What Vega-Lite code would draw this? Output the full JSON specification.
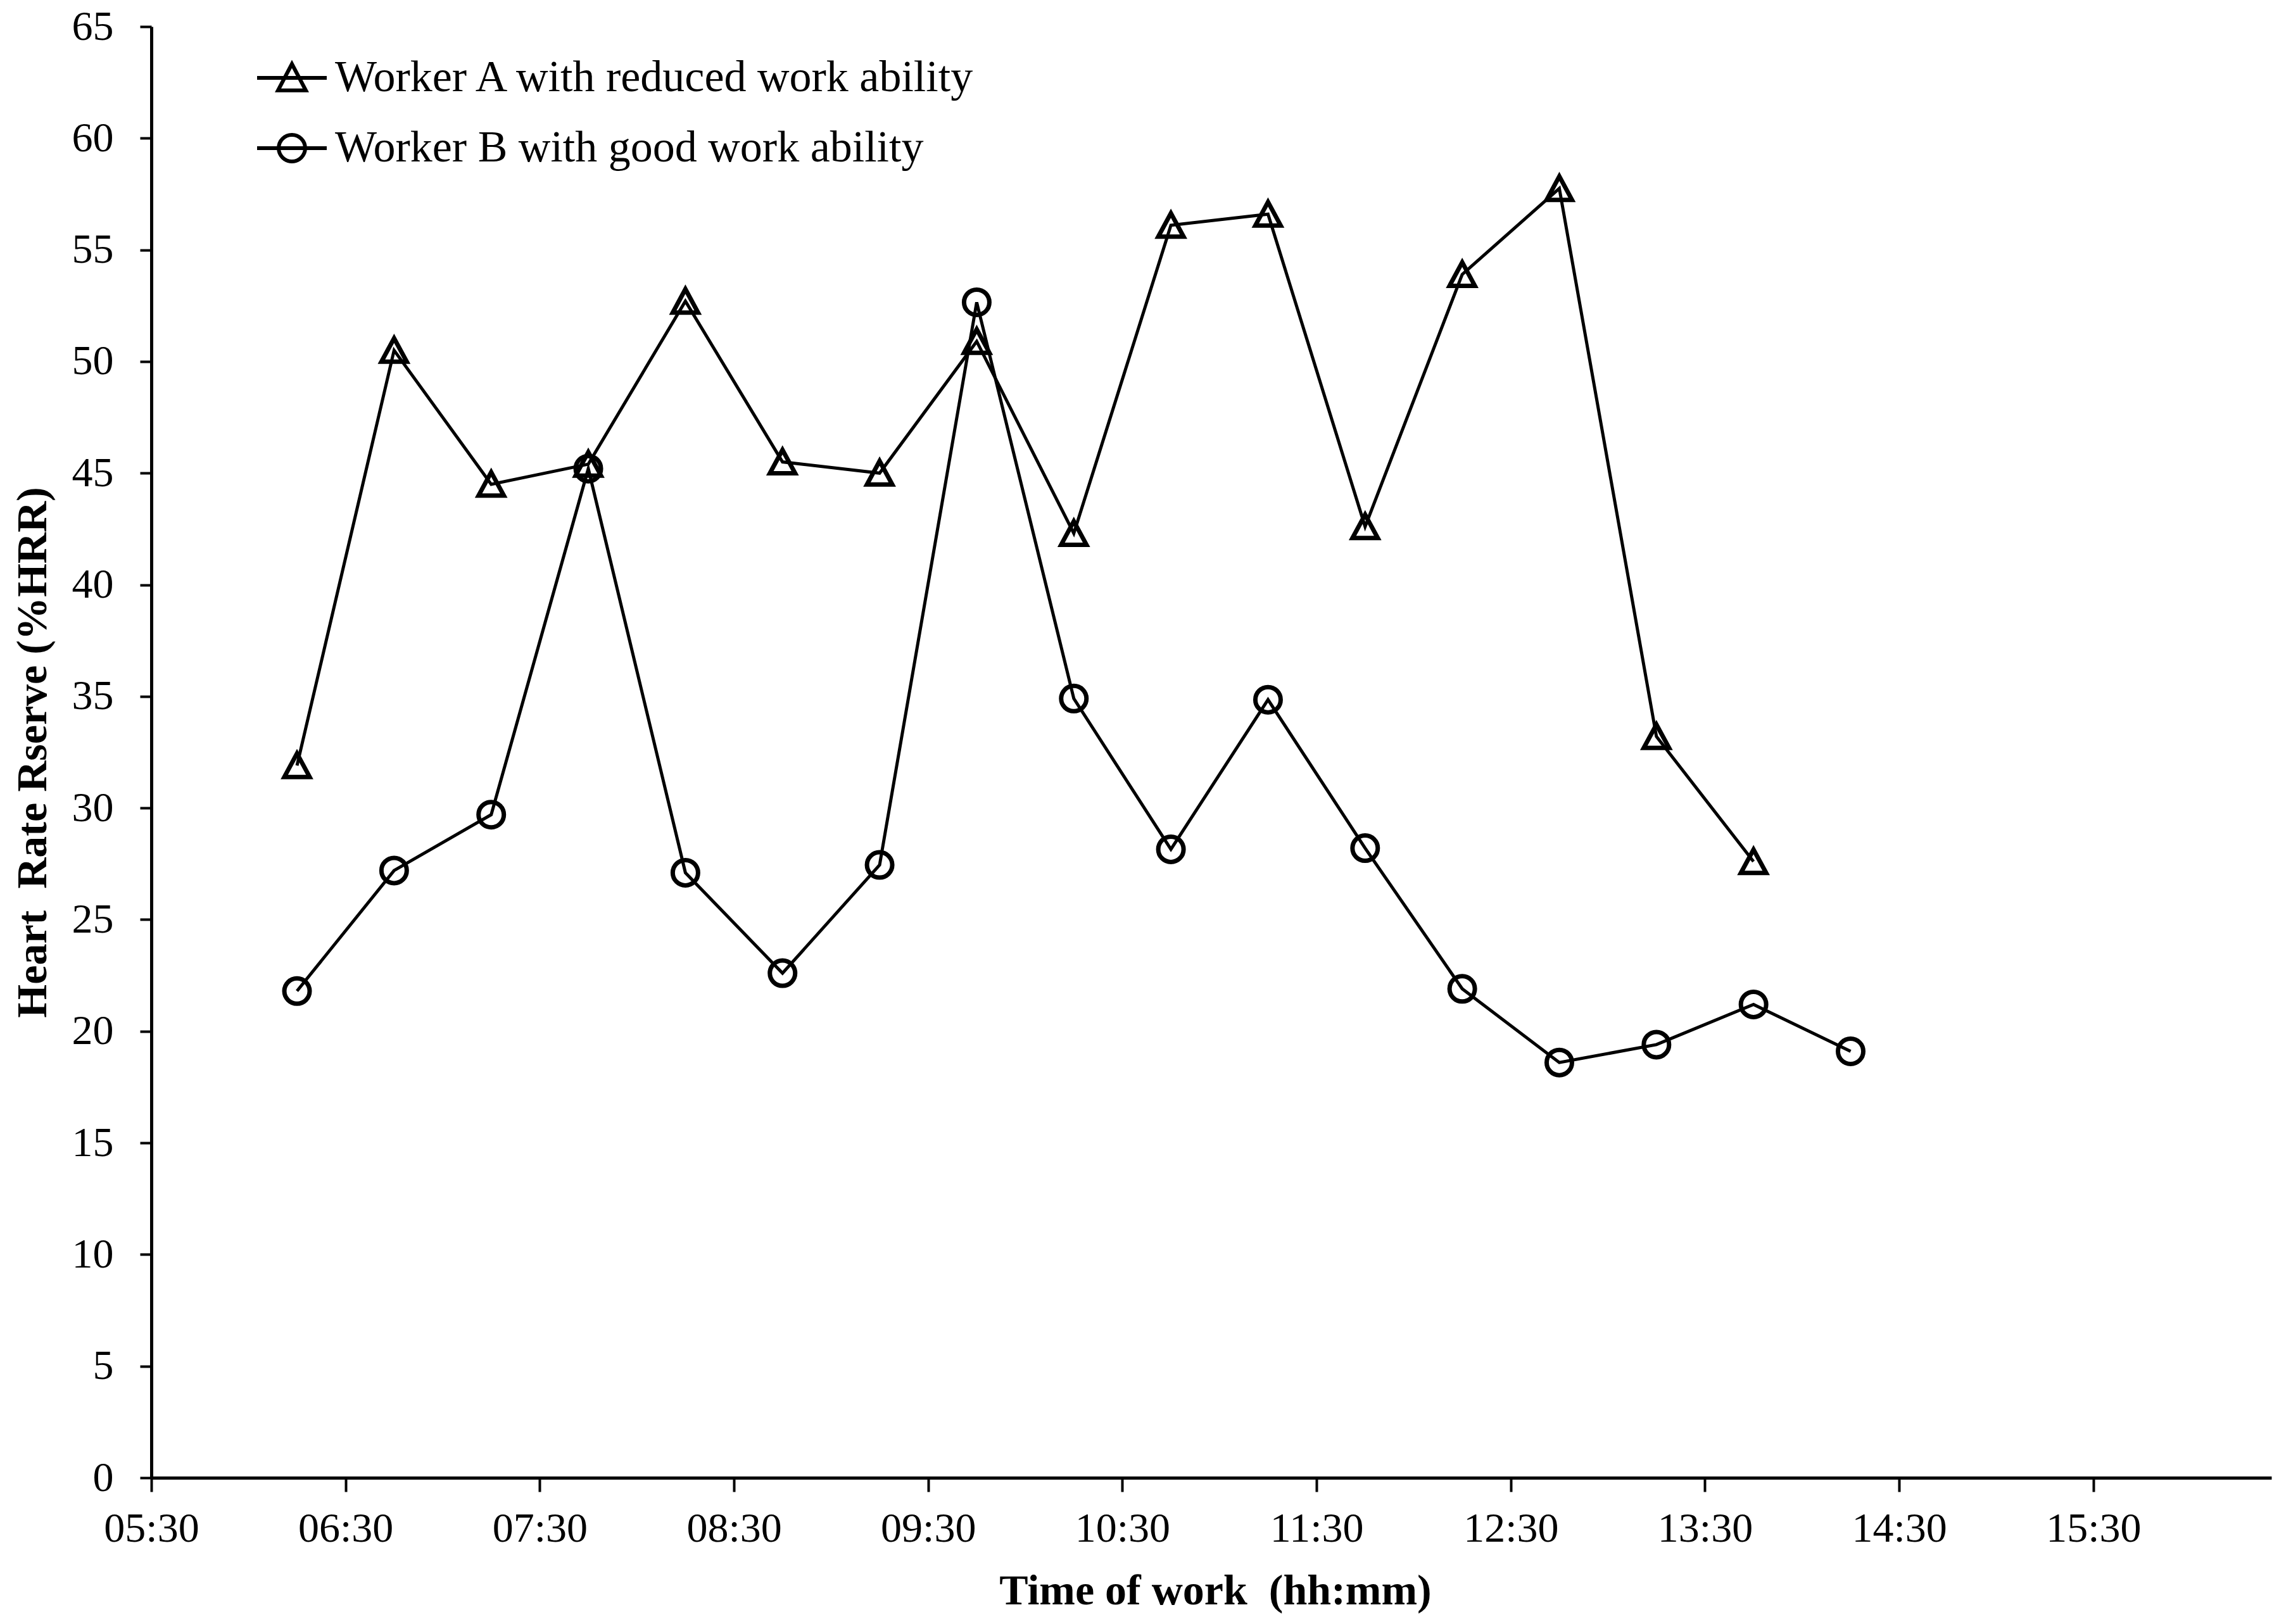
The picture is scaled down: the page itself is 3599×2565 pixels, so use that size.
{
  "$schema": "https://vega.github.io/schema/vega-lite/v6.json",
  "autosize": "none",
  "padding": {"left": 239, "top": 42, "right": 12, "bottom": 231},
  "width": 3348,
  "height": 2292,
  "background": "white",
  "config": {
    "font": "Liberation Serif",
    "view": {"stroke": null},
    "axis": {
      "grid": false,
      "domainColor": "black",
      "domainWidth": 5,
      "tickColor": "black",
      "tickWidth": 4,
      "labelColor": "black",
      "labelFont": "Liberation Serif",
      "labelFontSize": 66,
      "titleColor": "black",
      "titleFont": "Liberation Serif",
      "titleFontSize": 68,
      "titleFontWeight": "bold"
    }
  },
  "data": {
    "values": [
      {"time": "2000-01-01T06:15", "series": "Worker A with reduced work ability", "hrr": 31.9},
      {"time": "2000-01-01T06:45", "series": "Worker A with reduced work ability", "hrr": 50.5},
      {"time": "2000-01-01T07:15", "series": "Worker A with reduced work ability", "hrr": 44.5},
      {"time": "2000-01-01T07:45", "series": "Worker A with reduced work ability", "hrr": 45.4},
      {"time": "2000-01-01T08:15", "series": "Worker A with reduced work ability", "hrr": 52.7},
      {"time": "2000-01-01T08:45", "series": "Worker A with reduced work ability", "hrr": 45.5},
      {"time": "2000-01-01T09:15", "series": "Worker A with reduced work ability", "hrr": 45.0},
      {"time": "2000-01-01T09:45", "series": "Worker A with reduced work ability", "hrr": 50.9},
      {"time": "2000-01-01T10:15", "series": "Worker A with reduced work ability", "hrr": 42.3},
      {"time": "2000-01-01T10:45", "series": "Worker A with reduced work ability", "hrr": 56.1},
      {"time": "2000-01-01T11:15", "series": "Worker A with reduced work ability", "hrr": 56.6},
      {"time": "2000-01-01T11:45", "series": "Worker A with reduced work ability", "hrr": 42.6},
      {"time": "2000-01-01T12:15", "series": "Worker A with reduced work ability", "hrr": 53.9},
      {"time": "2000-01-01T12:45", "series": "Worker A with reduced work ability", "hrr": 57.75},
      {"time": "2000-01-01T13:15", "series": "Worker A with reduced work ability", "hrr": 33.2},
      {"time": "2000-01-01T13:45", "series": "Worker A with reduced work ability", "hrr": 27.6},
      {"time": "2000-01-01T06:15", "series": "Worker B with good work ability", "hrr": 21.8},
      {"time": "2000-01-01T06:45", "series": "Worker B with good work ability", "hrr": 27.2},
      {"time": "2000-01-01T07:15", "series": "Worker B with good work ability", "hrr": 29.7},
      {"time": "2000-01-01T07:45", "series": "Worker B with good work ability", "hrr": 45.2},
      {"time": "2000-01-01T08:15", "series": "Worker B with good work ability", "hrr": 27.1},
      {"time": "2000-01-01T08:45", "series": "Worker B with good work ability", "hrr": 22.6},
      {"time": "2000-01-01T09:15", "series": "Worker B with good work ability", "hrr": 27.45},
      {"time": "2000-01-01T09:45", "series": "Worker B with good work ability", "hrr": 52.65},
      {"time": "2000-01-01T10:15", "series": "Worker B with good work ability", "hrr": 34.9},
      {"time": "2000-01-01T10:45", "series": "Worker B with good work ability", "hrr": 28.15},
      {"time": "2000-01-01T11:15", "series": "Worker B with good work ability", "hrr": 34.85},
      {"time": "2000-01-01T11:45", "series": "Worker B with good work ability", "hrr": 28.2},
      {"time": "2000-01-01T12:15", "series": "Worker B with good work ability", "hrr": 21.9},
      {"time": "2000-01-01T12:45", "series": "Worker B with good work ability", "hrr": 18.6},
      {"time": "2000-01-01T13:15", "series": "Worker B with good work ability", "hrr": 19.4},
      {"time": "2000-01-01T13:45", "series": "Worker B with good work ability", "hrr": 21.2},
      {"time": "2000-01-01T14:15", "series": "Worker B with good work ability", "hrr": 19.1}
    ]
  },
  "encoding": {
    "x": {
      "field": "time",
      "type": "temporal",
      "scale": {
        "domain": [
          {"year": 2000, "month": 1, "date": 1, "hours": 5, "minutes": 30},
          {"year": 2000, "month": 1, "date": 1, "hours": 16, "minutes": 25}
        ],
        "nice": false
      },
      "axis": {
        "title": "Time of work \u00a0(hh:mm)",
        "format": "%H:%M",
        "values": [
          {"year": 2000, "month": 1, "date": 1, "hours": 5, "minutes": 30},
          {"year": 2000, "month": 1, "date": 1, "hours": 6, "minutes": 30},
          {"year": 2000, "month": 1, "date": 1, "hours": 7, "minutes": 30},
          {"year": 2000, "month": 1, "date": 1, "hours": 8, "minutes": 30},
          {"year": 2000, "month": 1, "date": 1, "hours": 9, "minutes": 30},
          {"year": 2000, "month": 1, "date": 1, "hours": 10, "minutes": 30},
          {"year": 2000, "month": 1, "date": 1, "hours": 11, "minutes": 30},
          {"year": 2000, "month": 1, "date": 1, "hours": 12, "minutes": 30},
          {"year": 2000, "month": 1, "date": 1, "hours": 13, "minutes": 30},
          {"year": 2000, "month": 1, "date": 1, "hours": 14, "minutes": 30},
          {"year": 2000, "month": 1, "date": 1, "hours": 15, "minutes": 30}
        ],
        "tickSize": 22,
        "labelPadding": 26,
        "labelFlush": false,
        "labelOverlap": false,
        "titleX": 1680,
        "titleY": 199,
        "titleAlign": "center",
        "titleBaseline": "alphabetic"
      }
    },
    "y": {
      "field": "hrr",
      "type": "quantitative",
      "scale": {"domain": [0, 65], "nice": false},
      "axis": {
        "title": "Heart \u00a0Rate Rserve (%HRR)",
        "values": [0, 5, 10, 15, 20, 25, 30, 35, 40, 45, 50, 55, 60, 65],
        "tickSize": 18,
        "labelPadding": 42,
        "labelFlush": false,
        "labelOverlap": false,
        "titleX": -187,
        "titleY": 1146,
        "titleAlign": "center",
        "titleBaseline": "middle"
      }
    }
  },
  "layer": [
    {
      "mark": {"type": "line", "color": "black", "strokeWidth": 5},
      "encoding": {
        "detail": {"field": "series", "type": "nominal"}
      }
    },
    {
      "mark": {"type": "point", "filled": false, "color": "black", "strokeWidth": 7, "size": 1600, "opacity": 1},
      "encoding": {
        "shape": {
          "field": "series",
          "type": "nominal",
          "scale": {"range": ["M-1,0.9L1,0.9L0,-0.95Z", "circle"]},
          "legend": null
        }
      }
    },
    {
      "transform": [{"filter": "false"}],
      "mark": {"type": "point", "filled": false, "color": "black", "strokeWidth": 6, "opacity": 1},
      "encoding": {
        "shape": {
          "field": "series",
          "type": "nominal",
          "scale": {
            "domain": ["Worker A with reduced work ability", "Worker B with good work ability"],
            "range": [
              "M-1,0L1,0M-0.4,0.36L0.4,0.36L0,-0.4Z",
              "M-1,0L1,0M0.38,0A0.38,0.38 0 1,1 -0.38,0A0.38,0.38 0 1,1 0.38,0Z"
            ]
          },
          "legend": {
            "title": null,
            "orient": "none",
            "legendX": 164,
            "legendY": 23,
            "padding": 0,
            "rowPadding": 18,
            "symbolSize": 12100,
            "symbolStrokeWidth": 6,
            "symbolStrokeColor": "black",
            "symbolFillColor": "transparent",
            "labelFont": "Liberation Serif",
            "labelFontSize": 70,
            "labelColor": "black",
            "labelLimit": 3000,
            "labelOffset": 10
          }
        }
      }
    }
  ],
  "resolve": {"scale": {"shape": "independent"}}
}
